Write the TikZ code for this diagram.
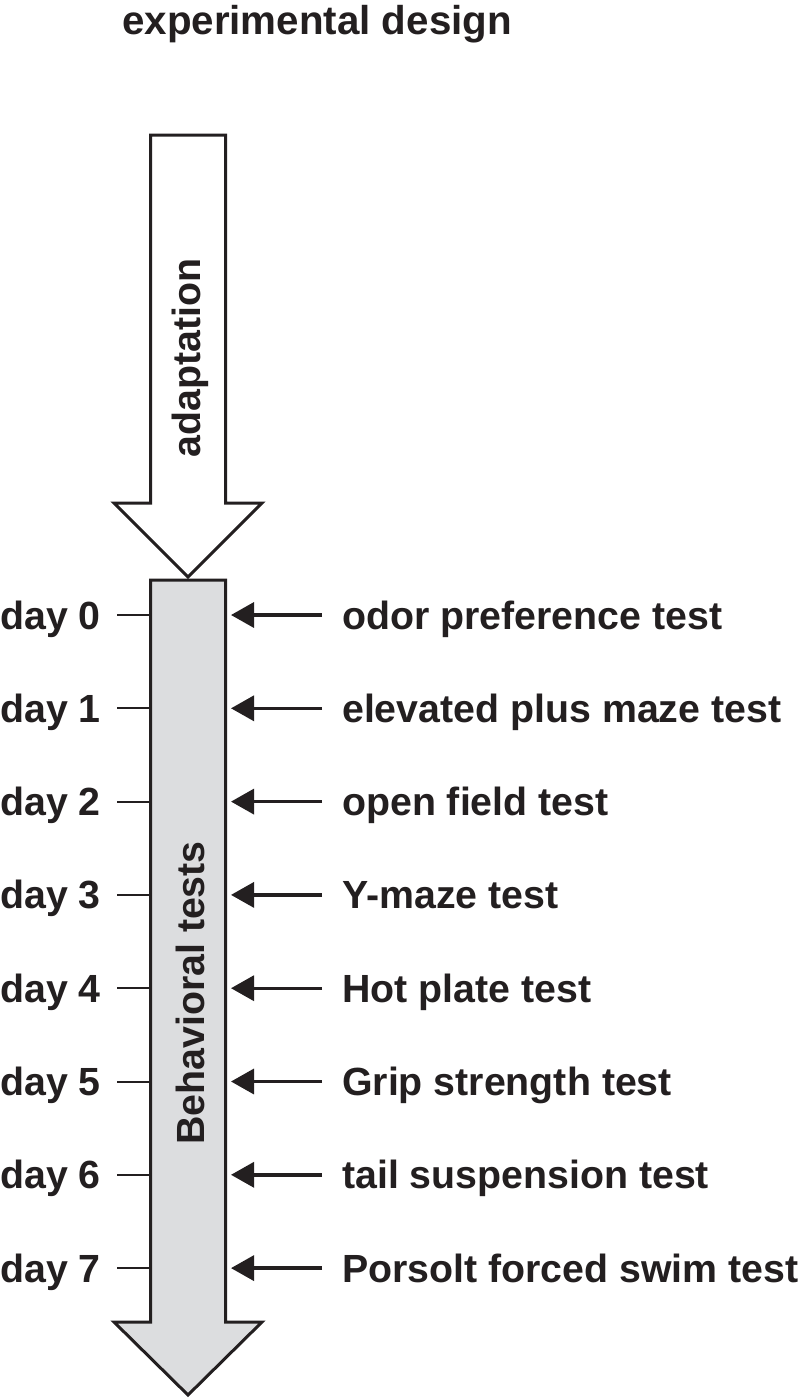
\documentclass[tikz,border=0pt]{standalone}
\usepackage{fontspec}
\setmainfont{Liberation Sans}
\usetikzlibrary{arrows.meta}
\definecolor{ink}{RGB}{35,31,32}
\definecolor{shade}{RGB}{220,221,223}
\tikzset{
  lbl/.style={font=\fontsize{39.3}{39.3}\selectfont\bfseries, text=ink, inner sep=0pt},
  bigarrow/.style={draw=ink, line width=3pt, line join=miter},
  tick/.style={draw=ink, line width=2pt},
  pointer/.style={draw=ink, line width=3.4pt, -{Triangle[length=23pt,width=25pt]}}
}
\begin{document}
\begin{tikzpicture}[x=1pt,y=-1pt]
\useasboundingbox (0,0) rectangle (800,1398);
\fill[white] (0,0) rectangle (800,1398);
\node[lbl, font=\fontsize{40.3}{40.3}\selectfont\bfseries, anchor=base west] (title) at (122,34) {experimental design};
% adaptation arrow
\draw[bigarrow, fill=white] (150.5,135) -- (225.5,135) -- (225.5,503) -- (262,503) -- (188,577) -- (114,503) -- (150.5,503) -- cycle;
\node[lbl, rotate=90] (adapt) at (190,358) {adaptation};
% behavioral tests arrow
\draw[bigarrow, fill=shade] (150.5,580) -- (225.5,580) -- (225.5,1322) -- (262,1322) -- (188,1395) -- (114,1322) -- (150.5,1322) -- cycle;
\node[lbl, rotate=90] (beh) at (190,993) {Behavioral tests};
% days
\foreach \i/\t in {0/odor preference test,1/elevated plus maze test,2/open field test,3/Y-maze test,4/Hot plate test,5/Grip strength test,6/tail suspension test,7/Porsolt forced swim test}{
  \pgfmathsetmacro{\yy}{615+93.3*\i}
  \node[lbl, anchor=base west] (day\i) at (0,\yy+14) {day \i};
  \coordinate (tk\i) at (117,\yy);
  \coordinate (sh\i) at (150,\yy);
  \draw[tick] (tk\i) -- (sh\i);
  \node[lbl, anchor=base west] (test\i) at (342,\yy+14) {\t};
  \coordinate (as\i) at (322,\yy);
  \coordinate (ae\i) at (231,\yy);
  \draw[pointer] (as\i) -- (ae\i);
}
\end{tikzpicture}
\end{document}
